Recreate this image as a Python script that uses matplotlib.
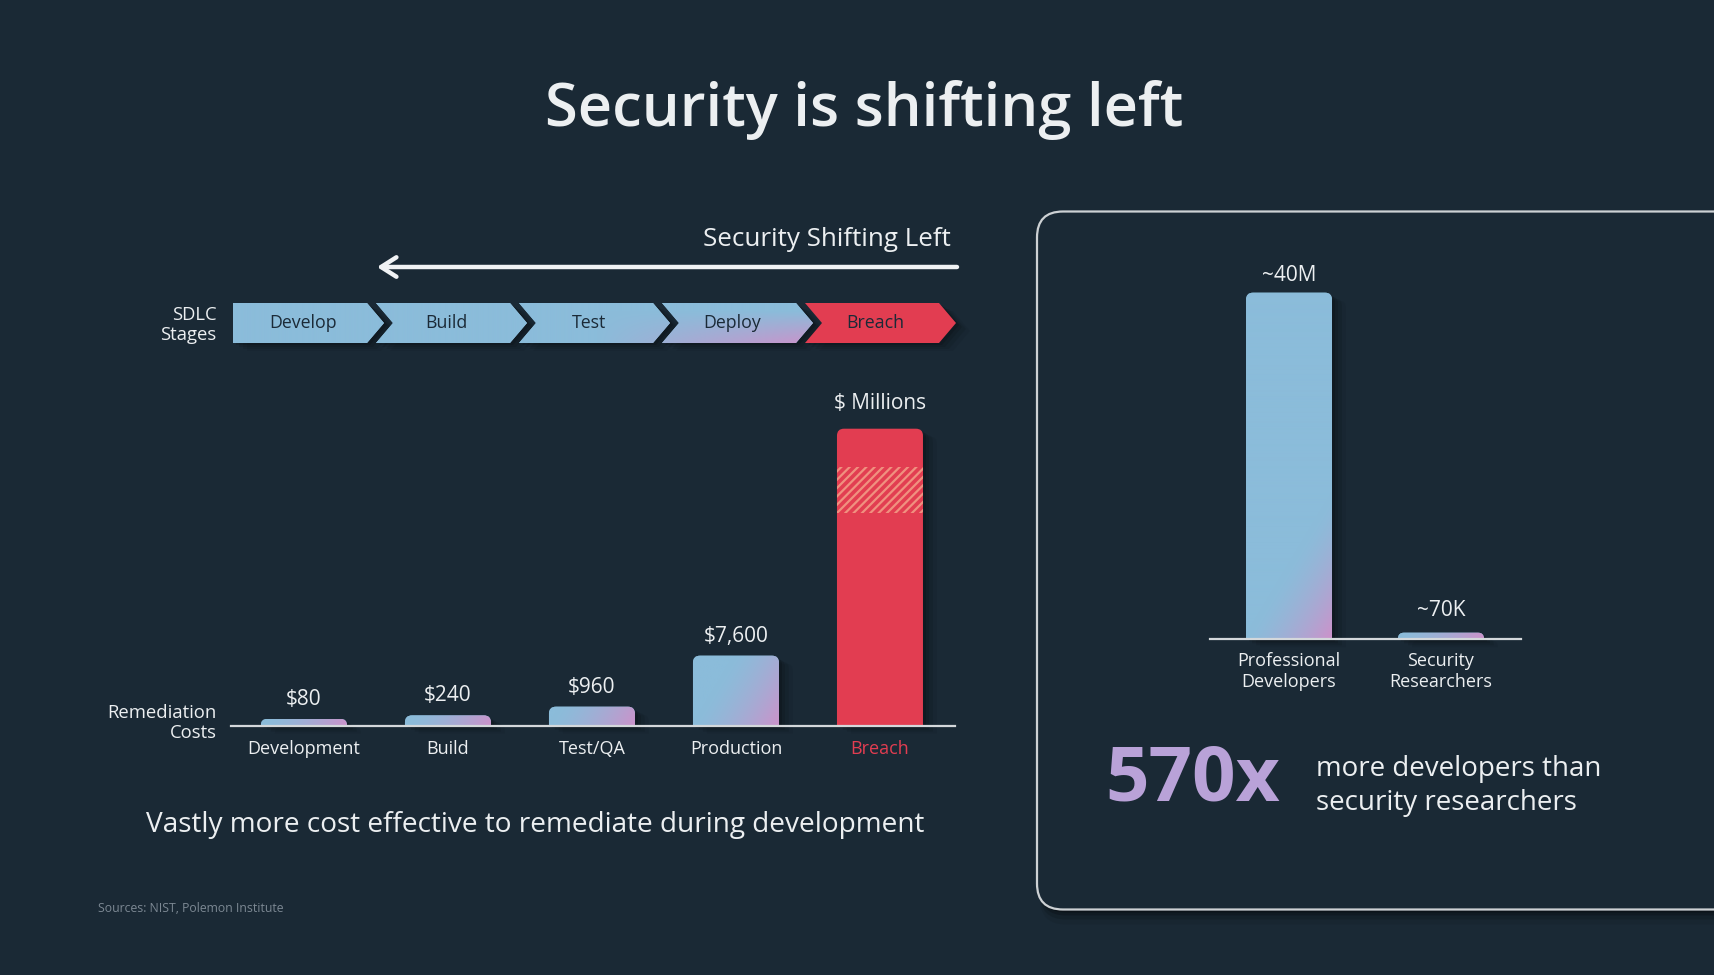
import numpy as np
import matplotlib
matplotlib.use("Agg")
import matplotlib.pyplot as plt
from matplotlib.patches import Polygon, FancyBboxPatch, PathPatch, Rectangle
from matplotlib.path import Path
from matplotlib.transforms import Affine2D
from matplotlib.colors import to_rgb

# ---------------- data ----------------
title = "Security is shifting left"
arrow_label = "Security Shifting Left"
sdlc_stages = ["Develop", "Build", "Test", "Deploy", "Breach"]
cost_categories = ["Development", "Build", "Test/QA", "Production", "Breach"]
cost_labels = ["$80", "$240", "$960", "$7,600", "$ Millions"]
cost_bar_heights = [6.7, 10.3, 19.0, 70.0, 297.0]      # drawn heights (slide is not to linear scale)
breach_hatch_band = [0.716, 0.871]                       # fraction of the Breach bar height
people_categories = ["Professional\nDevelopers", "Security\nResearchers"]
people_labels = ["~40M", "~70K"]
people_bar_heights = [346.6, 6.6]                        # drawn heights
ratio_text = "570x"
ratio_caption = "more developers than\nsecurity researchers"
footnote = "Vastly more cost effective to remediate during development"
sources = "Sources: NIST, Polemon Institute"

# ---------------- style ----------------
plt.rcParams['font.family'] = ['Open Sans', 'DejaVu Sans']
plt.rcParams['hatch.linewidth'] = 1.6
BG = '#1a2935'
TXT = '#eceff1'
BLUE = '#8bbcda'
PINK = '#d18fc9'
RED = '#e23d51'
DARK = '#1b2a37'
LINE = '#d4d8db'

W, H = 1715, 975
fig = plt.figure(figsize=(W / 100, H / 100), dpi=100)
fig.patch.set_facecolor(BG)

deco = fig.add_axes([0, 0, 1, 1])
deco.set_xlim(0, W)
deco.set_ylim(H, 0)
deco.axis('off')
deco.set_facecolor('none')


def axes_px(l, t, r, b):
    ax = fig.add_axes([l / W, 1 - b / H, (r - l) / W, (b - t) / H])
    ax.set_facecolor('none')
    ax.axis('off')
    return ax


def blend(t):
    b = np.array(to_rgb(BLUE))
    p = np.array(to_rgb(PINK))
    return (1 - t)[..., None] * b + t[..., None] * p


def grad_bar_image(ax, patch, x0, x1, y0, y1, sx, sy, L=88, ky=0.6, strength=0.95, z=3):
    nx = max(int(abs(x1 - x0) * sx), 2)
    ny = max(int(abs(y1 - y0) * sy), 2)
    dx = (np.arange(nx)[::-1] + 0.5)[None, :]
    dy = (np.arange(ny) + 0.5)[:, None]
    t = np.clip(1 - (dx + ky * dy) / L, 0, 1)
    t = strength * t ** 1.5
    im = ax.imshow(blend(t), extent=(x0, x1, y0, y1), origin='lower', aspect='auto',
                   zorder=z, interpolation='bilinear')
    im.set_clip_path(patch)


def top_rounded(x0, x1, y0, y1, rx, ry):
    verts = [(x0, y0), (x1, y0), (x1, y1 - ry), (x1, y1), (x1 - rx, y1),
             (x0 + rx, y1), (x0, y1), (x0, y1 - ry), (x0, y0)]
    codes = [Path.MOVETO, Path.LINETO, Path.LINETO, Path.CURVE3, Path.CURVE3,
             Path.LINETO, Path.CURVE3, Path.CURVE3, Path.CLOSEPOLY]
    return Path(verts, codes)


SHADOWS = [(3, -2, 0.14), (6, -4, 0.11), (10, -6, 0.08), (14, -8, 0.05)]


def draw_bars(ax, heights, width, sx, sy, colors, radius=7):
    bars = ax.bar(range(len(heights)), heights, width=width, color='none',
                  edgecolor='none', zorder=1)
    out = []
    for b, c in zip(bars, colors):
        x0, y0 = b.get_x(), b.get_y()
        x1, y1 = x0 + b.get_width(), y0 + b.get_height()
        r = min(radius, (y1 - y0) * sy * 0.9)
        path = top_rounded(x0, x1, y0, y1, r / sx, r / sy)
        for ox, oy, a in SHADOWS:
            sp = PathPatch(path, fc='black', ec='none', alpha=a, zorder=0.5, clip_on=False)
            sp.set_transform(ax.transData + Affine2D().translate(ox, oy))
            ax.add_patch(sp)
        p = PathPatch(path, fc=(BLUE if c == 'grad' else c), ec='none', zorder=2)
        ax.add_patch(p)
        if c == 'grad':
            grad_bar_image(ax, p, x0, x1, y0, y1, sx, sy)
        out.append((x0, x1, y0, y1, p))
    return out


# ---------------- title & arrow ----------------
deco.text(864, 110, title, ha='center', va='center', fontsize=43, weight='semibold', color=TXT)
deco.text(951, 240, arrow_label, ha='right', va='center', fontsize=18.7, color=TXT)
deco.annotate('', xy=(377, 267), xytext=(957, 267),
              arrowprops=dict(arrowstyle='->,head_length=0.55,head_width=0.35', color='#f0f2f4',
                              lw=3.2, shrinkA=0, shrinkB=0, mutation_scale=20))

# ---------------- SDLC chevrons ----------------
deco.text(216.5, 325, "SDLC\nStages", ha='right', va='center', fontsize=13.3, color=TXT,
          linespacing=1.15)
axS = axes_px(233, 303, 957, 343)
pitch = 143.0
body = 134 / pitch
tip = 17 / pitch
for i, name in enumerate(sdlc_stages):
    x0 = float(i)
    pts = [(x0, 0), (x0 + body, 0), (x0 + body + tip, 0.5), (x0 + body, 1), (x0, 1)]
    if i > 0:
        pts.append((x0 + tip, 0.5))
    is_breach = (name == "Breach")
    for ox, oy, a in SHADOWS:
        sh = Polygon(pts, closed=True, fc='black', ec='none', alpha=a, zorder=0.5, clip_on=False)
        sh.set_transform(axS.transData + Affine2D().translate(ox, oy))
        axS.add_patch(sh)
    poly = Polygon(pts, closed=True, fc=(RED if is_breach else BLUE), ec='none', zorder=2,
                   clip_on=False)
    axS.add_patch(poly)
    if not is_breach:
        xe0, xe1 = x0, x0 + body + tip
        nx, ny = 160, 40
        xs = np.linspace(xe0, xe1, nx)[None, :]
        ys = np.linspace(0, 1, ny)[:, None]
        t = np.clip((xs - 2.55) / 1.45, 0, 1) * np.clip(1 - ys / 0.8, 0, 1) * 0.85
        im = axS.imshow(blend(t), extent=(xe0, xe1, 0, 1), origin='lower', aspect='auto',
                        zorder=3, interpolation='bilinear')
        im.set_clip_path(poly)
    axS.text(x0 + 0.49, 0.5, name, ha='center', va='center', fontsize=12.8, color=DARK,
             zorder=5)
axS.set_xlim(0, 724 / pitch)
axS.set_ylim(0, 1)

# ---------------- remediation cost bars ----------------
ax1 = axes_px(231.5, 380, 955, 725.7)
sx1, sy1 = 144.0, 1.0
cols = ['grad', 'grad', 'grad', 'grad', RED]
bars1 = draw_bars(ax1, cost_bar_heights, 86 / sx1, sx1, sy1, cols)
# hatched band on the breach bar
bx0, bx1, by0, by1, bp = bars1[-1]
hb = Rectangle((bx0, by1 * breach_hatch_band[0]), bx1 - bx0,
               by1 * (breach_hatch_band[1] - breach_hatch_band[0]),
               fc=RED, ec='#f0907f', hatch='////', lw=0, zorder=4)
ax1.add_patch(hb)
ax1.axhline(0, color=LINE, lw=1.6, zorder=6, clip_on=False)
for i, (lab, h) in enumerate(zip(cost_labels, cost_bar_heights)):
    off = 25 if i == len(cost_labels) - 1 else 19.5
    ax1.text(i, max(h + off, 25), lab, ha='center', va='center', fontsize=15, color=TXT)
for i, cat in enumerate(cost_categories):
    ax1.text(i, -23, cat, ha='center', va='center', fontsize=13,
             color=(RED if cat == "Breach" else TXT))
ax1.set_xlim(-0.503, 4.521)
ax1.set_ylim(0, 345.7)
deco.text(216.5, 723, "Remediation\nCosts", ha='right', va='center', fontsize=13.3, color=TXT,
          linespacing=1.15)
deco.text(535, 825, footnote, ha='center', va='center', fontsize=20.2, color=TXT)
deco.text(98.5, 908, sources, ha='left', va='center', fontsize=8.8, color='#7c8893')

# ---------------- right panel ----------------
for oy, a in [(3, 0.25), (6, 0.18), (10, 0.12), (15, 0.07)]:
    deco.add_patch(FancyBboxPatch((1037 + 3, 211.5 + oy), 760, 698,
                                  boxstyle='round,pad=0,rounding_size=26',
                                  fc='black', ec='none', alpha=a))
deco.add_patch(FancyBboxPatch((1037, 211.5), 760, 698, boxstyle='round,pad=0,rounding_size=26',
                              fc=BG, ec='#cdd1d4', lw=1.6))

ax2 = axes_px(1210, 250, 1520.6, 639.3)
sx2, sy2 = 152.0, 1.0
draw_bars(ax2, people_bar_heights, 86 / sx2, sx2, sy2, ['grad', 'grad'])
ax2.axhline(0, color=LINE, lw=1.6, zorder=6, clip_on=False)
for i, (lab, h) in enumerate(zip(people_labels, people_bar_heights)):
    ax2.text(i, max(h + 17, 29), lab, ha='center', va='center', fontsize=15, color=TXT)
for i, cat in enumerate(people_categories):
    ax2.text(i, -32, cat, ha='center', va='center', fontsize=13, color=TXT, linespacing=1.2)
ax2.set_xlim(-0.52, 1.524)
ax2.set_ylim(0, 389.3)

deco.text(1105, 781, ratio_text, ha='left', va='center', fontsize=55, weight='bold',
          color='#b9a2d8')
deco.text(1316, 786, ratio_caption, ha='left', va='center', fontsize=20, color=TXT,
          linespacing=1.3)

fig.savefig('out.png', dpi=100, facecolor=BG)
